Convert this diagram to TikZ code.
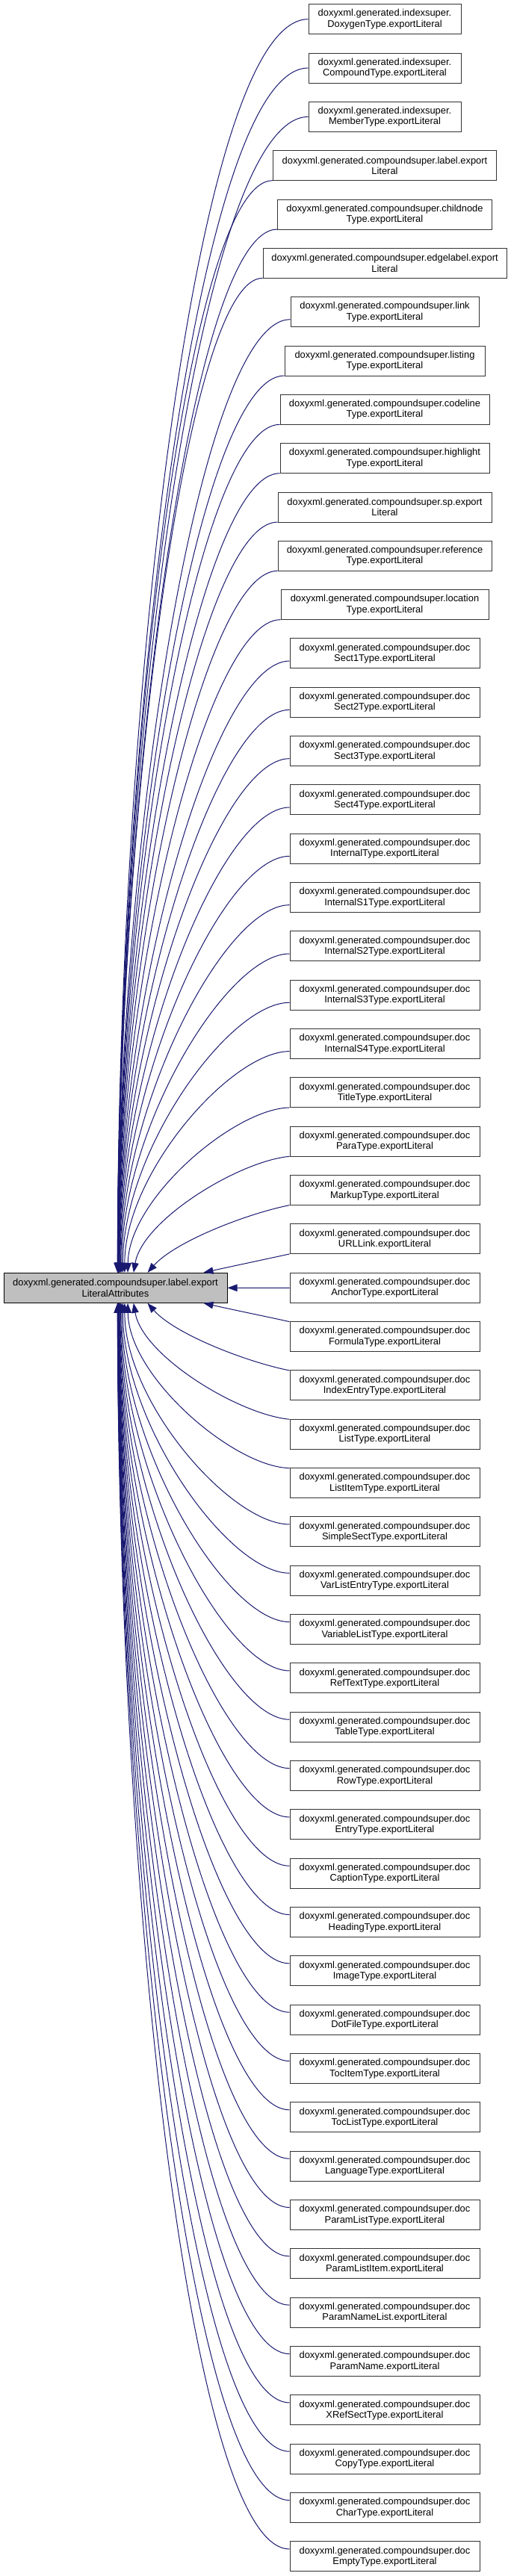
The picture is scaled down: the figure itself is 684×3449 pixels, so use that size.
\documentclass[tikz,border=0pt]{standalone}
\usepackage{fontspec}
\setmainfont{Liberation Sans}
\usetikzlibrary{arrows.meta}
\definecolor{edgeblue}{HTML}{191970}
\definecolor{srcgray}{HTML}{BFBFBF}

\begin{document}
\begin{tikzpicture}[x=1pt, y=-1pt,
  callnode/.style={draw=black!80, fill=white, line width=1pt, minimum height=40pt,
    inner sep=0pt, align=center, font=\fontsize{12.9}{14.3}\selectfont},
  srcnode/.style={callnode, draw=black, fill=srcgray, minimum width=299pt},
  calledge/.style={draw=edgeblue, line width=1pt, -{Triangle[length=13pt, width=9.5pt]}}]
\useasboundingbox (0,0) rectangle (684,3449);

\node[srcnode] (src) at (154.5,1724.3) {doxyxml.generated.compoundsuper.label.export\\LiteralAttributes};

\foreach \i/\lna/\lnb/\bw in {
  0/doxyxml.generated.indexsuper./DoxygenType.exportLiteral/204,
  1/doxyxml.generated.indexsuper./CompoundType.exportLiteral/204,
  2/doxyxml.generated.indexsuper./MemberType.exportLiteral/204,
  3/doxyxml.generated.compoundsuper.label.export/Literal/299,
  4/doxyxml.generated.compoundsuper.childnode/Type.exportLiteral/287,
  5/doxyxml.generated.compoundsuper.edgelabel.export/Literal/326,
  6/doxyxml.generated.compoundsuper.link/Type.exportLiteral/252,
  7/doxyxml.generated.compoundsuper.listing/Type.exportLiteral/268,
  8/doxyxml.generated.compoundsuper.codeline/Type.exportLiteral/280,
  9/doxyxml.generated.compoundsuper.highlight/Type.exportLiteral/280,
  10/doxyxml.generated.compoundsuper.sp.export/Literal/286,
  11/doxyxml.generated.compoundsuper.reference/Type.exportLiteral/286,
  12/doxyxml.generated.compoundsuper.location/Type.exportLiteral/278,
  13/doxyxml.generated.compoundsuper.doc/Sect1Type.exportLiteral/254,
  14/doxyxml.generated.compoundsuper.doc/Sect2Type.exportLiteral/254,
  15/doxyxml.generated.compoundsuper.doc/Sect3Type.exportLiteral/254,
  16/doxyxml.generated.compoundsuper.doc/Sect4Type.exportLiteral/254,
  17/doxyxml.generated.compoundsuper.doc/InternalType.exportLiteral/254,
  18/doxyxml.generated.compoundsuper.doc/InternalS1Type.exportLiteral/254,
  19/doxyxml.generated.compoundsuper.doc/InternalS2Type.exportLiteral/254,
  20/doxyxml.generated.compoundsuper.doc/InternalS3Type.exportLiteral/254,
  21/doxyxml.generated.compoundsuper.doc/InternalS4Type.exportLiteral/254,
  22/doxyxml.generated.compoundsuper.doc/TitleType.exportLiteral/254,
  23/doxyxml.generated.compoundsuper.doc/ParaType.exportLiteral/254,
  24/doxyxml.generated.compoundsuper.doc/MarkupType.exportLiteral/254,
  25/doxyxml.generated.compoundsuper.doc/URLLink.exportLiteral/254,
  26/doxyxml.generated.compoundsuper.doc/AnchorType.exportLiteral/254,
  27/doxyxml.generated.compoundsuper.doc/FormulaType.exportLiteral/254,
  28/doxyxml.generated.compoundsuper.doc/IndexEntryType.exportLiteral/254,
  29/doxyxml.generated.compoundsuper.doc/ListType.exportLiteral/254,
  30/doxyxml.generated.compoundsuper.doc/ListItemType.exportLiteral/254,
  31/doxyxml.generated.compoundsuper.doc/SimpleSectType.exportLiteral/254,
  32/doxyxml.generated.compoundsuper.doc/VarListEntryType.exportLiteral/254,
  33/doxyxml.generated.compoundsuper.doc/VariableListType.exportLiteral/254,
  34/doxyxml.generated.compoundsuper.doc/RefTextType.exportLiteral/254,
  35/doxyxml.generated.compoundsuper.doc/TableType.exportLiteral/254,
  36/doxyxml.generated.compoundsuper.doc/RowType.exportLiteral/254,
  37/doxyxml.generated.compoundsuper.doc/EntryType.exportLiteral/254,
  38/doxyxml.generated.compoundsuper.doc/CaptionType.exportLiteral/254,
  39/doxyxml.generated.compoundsuper.doc/HeadingType.exportLiteral/254,
  40/doxyxml.generated.compoundsuper.doc/ImageType.exportLiteral/254,
  41/doxyxml.generated.compoundsuper.doc/DotFileType.exportLiteral/254,
  42/doxyxml.generated.compoundsuper.doc/TocItemType.exportLiteral/254,
  43/doxyxml.generated.compoundsuper.doc/TocListType.exportLiteral/254,
  44/doxyxml.generated.compoundsuper.doc/LanguageType.exportLiteral/254,
  45/doxyxml.generated.compoundsuper.doc/ParamListType.exportLiteral/254,
  46/doxyxml.generated.compoundsuper.doc/ParamListItem.exportLiteral/254,
  47/doxyxml.generated.compoundsuper.doc/ParamNameList.exportLiteral/254,
  48/doxyxml.generated.compoundsuper.doc/ParamName.exportLiteral/254,
  49/doxyxml.generated.compoundsuper.doc/XRefSectType.exportLiteral/254,
  50/doxyxml.generated.compoundsuper.doc/CopyType.exportLiteral/254,
  51/doxyxml.generated.compoundsuper.doc/CharType.exportLiteral/254,
  52/doxyxml.generated.compoundsuper.doc/EmptyType.exportLiteral/254}{
  \pgfmathsetmacro\yc{25.7+65.33*\i}
  \node[callnode, minimum width=\bw pt] (n\i) at (515,\yc) {\lna\\\lnb};
  \pgfmathtruncatemacro\kk{abs(\i-26)}
  \ifnum\kk=0
    \draw[calledge] (n\i) -- (src);
  \else
    \ifnum\i<26 \def\corner{north west}\else\def\corner{south west}\fi
    \pgfmathsetmacro\sg{\i<26 ? 1 : -1}
    \pgfmathsetmacro\xe{157+116/pow(\kk,1.5)}
    \pgfmathsetmacro\tx{\xe-5}
    \pgfmathsetmacro\hh{\bw>=265 ? 20 : (\bw<=210 ? 0 : (\kk<=4 ? 20 : 10))}
    \pgfmathsetmacro\ys{-\hh*\sg}
    \pgfmathsetmacro\armh{515-\bw/2-\xe}
    \pgfmathsetmacro\armv{\i<26 ? 1704-\yc-\hh : \yc-\hh-1744}
    \pgfmathsetmacro\pp{0.3+0.3*\armv/1700}
    \pgfmathsetmacro\ff{pow(max(0,(5-\kk)/4),3)}
    \pgfmathsetmacro\cax{-\pp*\armh}
    \pgfmathsetmacro\cay{\pp*\ff*\armv*\sg}
    \pgfmathsetmacro\cbx{0.45*\ff*\armh}
    \pgfmathsetmacro\cby{-0.45*\armv*\sg}
    \draw[calledge] ([yshift=\ys pt]n\i.west) .. controls +(\cax,\cay) and +(\cbx,\cby) .. ([xshift=\tx pt]src.\corner);
  \fi
}
\end{tikzpicture}
\end{document}
